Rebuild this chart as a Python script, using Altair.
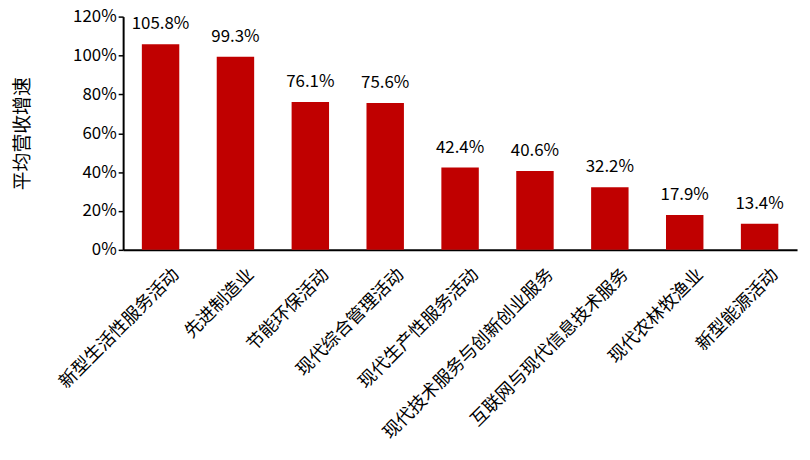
import altair as alt
import pandas as pd

categories = ["新型生活性服务活动", "先进制造业", "节能环保活动", "现代综合管理活动",
              "现代生产性服务活动", "现代技术服务与创新创业服务", "互联网与现代信息技术服务",
              "现代农林牧渔业", "新型能源活动"]
values = [1.058, 0.993, 0.761, 0.756, 0.424, 0.406, 0.322, 0.179, 0.134]
labels = ["105.8%", "99.3%", "76.1%", "75.6%", "42.4%", "40.6%", "32.2%", "17.9%", "13.4%"]

df = pd.DataFrame({"cat": categories, "val": values, "lab": labels})
FONT = "Noto Sans CJK SC"

x = alt.X("cat:N", sort=categories, title=None,
          scale=alt.Scale(paddingInner=0.5, paddingOuter=0.25),
          axis=alt.Axis(labelAngle=-45, labelAlign="right", labelBaseline="middle",
                        labelFontSize=18, labelColor="#000000", labelFont=FONT,
                        ticks=False, domainColor="#000000", domainWidth=2,
                        labelPadding=22, labelOffset=16, labelLimit=400))
y = alt.Y("val:Q", title="平均营收增速",
          scale=alt.Scale(domain=[0, 1.2], nice=False),
          axis=alt.Axis(format=".0%", values=[0, 0.2, 0.4, 0.6, 0.8, 1.0, 1.2],
                        grid=False, tickSize=5, tickColor="#000000", tickWidth=1.5,
                        domainColor="#000000", domainWidth=2, labelOverlap=False,
                        labelFontSize=17, labelColor="#000000", labelFont=FONT,
                        titleFontSize=19, titleFont=FONT, titleColor="#000000",
                        titleFontWeight="normal", titlePadding=40))

bars = alt.Chart(df).mark_bar(color="#C00000").encode(x=x, y=y)
text = alt.Chart(df).mark_text(baseline="bottom", dy=-11, fontSize=17, font=FONT,
                               color="#000000").encode(x=x, y=y, text="lab:N")

chart = (bars + text).properties(
    width=679, height=235,
    autosize=alt.AutoSizeParams(type="none"),
    padding={"left": 116, "top": 7, "right": 5, "bottom": 200},
).configure_view(stroke=None)

chart.save("out.html", embed_options={"renderer": "svg", "actions": False})
